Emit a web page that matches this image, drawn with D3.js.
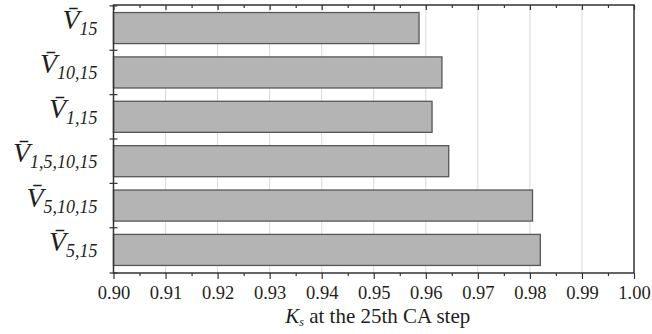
<!DOCTYPE html>
<html>
<head>
<meta charset="utf-8">
<script src="https://cdn.jsdelivr.net/npm/d3@7"></script>
<style>
body { margin: 0; background: #fff; }
text { font-family: "Liberation Serif", "Times New Roman", serif; fill: #1e1e1e; }
</style>
</head>
<body>
<div id="chart"></div>
<script>
// categories top to bottom: [main subscript]
const categories = ["15", "10,15", "1,15", "1,5,10,15", "5,10,15", "5,15"];
const ksValues = [0.9587, 0.9631, 0.9612, 0.9644, 0.9805, 0.9820];
const majorTicks = [0.90, 0.91, 0.92, 0.93, 0.94, 0.95, 0.96, 0.97, 0.98, 0.99, 1.00];
const minorTicks = [0.905, 0.915, 0.925, 0.935, 0.945, 0.955, 0.965, 0.975, 0.985, 0.995];

const W = 652, H = 334;
const margin = { top: 5, right: 18, bottom: 61, left: 113.5 };
const width = W - margin.left - margin.right;
const height = H - margin.top - margin.bottom;

const x = d3.scaleLinear().domain([0.90, 1.00]).range([0, width]);
const y = d3.scaleBand().domain(categories).range([0, height])
  .paddingInner(0.3).paddingOuter(0.17);

const svg = d3.select("#chart").append("svg")
  .attr("width", W).attr("height", H);

const g = svg.append("g")
  .attr("transform", "translate(" + margin.left + "," + margin.top + ")");

// grid lines
g.selectAll(".grid")
  .data(majorTicks.slice(1, -1))
  .enter().append("line")
  .attr("class", "grid")
  .attr("x1", d => x(d)).attr("x2", d => x(d))
  .attr("y1", 0).attr("y2", height)
  .attr("stroke", "#d9d9d9").attr("stroke-width", 1);

// bars
g.selectAll(".bar")
  .data(categories)
  .enter().append("rect")
  .attr("class", "bar")
  .attr("x", x(0.90))
  .attr("y", d => y(d))
  .attr("width", (d, i) => x(ksValues[i]) - x(0.90))
  .attr("height", y.bandwidth())
  .attr("fill", "#b4b4b4")
  .attr("stroke", "#575757")
  .attr("stroke-width", 1.3);

// bottom axis (major + minor)
const bottom = g.append("g")
  .attr("transform", "translate(0," + height + ")")
  .call(d3.axisBottom(x).tickValues(majorTicks).tickSize(6).tickPadding(7)
    .tickFormat(d3.format(".2f")));
g.append("g")
  .attr("transform", "translate(0," + height + ")")
  .call(d3.axisBottom(x).tickValues(minorTicks).tickSize(3).tickFormat(""));

// top axis, ticks pointing inward
g.append("g")
  .call(d3.axisBottom(x).tickValues(majorTicks).tickSize(5).tickFormat(""));
g.append("g")
  .call(d3.axisBottom(x).tickValues(minorTicks).tickSize(3).tickFormat(""));

g.selectAll(".domain").remove();
g.selectAll(".tick line").attr("stroke", "#333").attr("stroke-width", 1.2);
bottom.selectAll(".tick text")
  .style("font-family", "Liberation Serif, serif")
  .style("font-size", "18.5px").attr("fill", "#1e1e1e");

// left ticks at category boundaries
const bounds = d3.range(categories.length + 1)
  .map(i => i === categories.length ? height : y(categories[i]) - y.step() * y.paddingInner() / 2);
g.selectAll(".ytick")
  .data(bounds)
  .enter().append("line")
  .attr("x1", -4).attr("x2", 4)
  .attr("y1", d => d).attr("y2", d => d)
  .attr("stroke", "#333").attr("stroke-width", 1.2);

// frame
g.append("rect")
  .attr("width", width).attr("height", height)
  .attr("fill", "none").attr("stroke", "#333").attr("stroke-width", 1.5);

// category labels: V-bar with subscript
const lab = g.selectAll(".ylabel")
  .data(categories)
  .enter().append("text")
  .attr("class", "ylabel")
  .attr("x", -16)
  .attr("y", d => y(d) + y.bandwidth() / 2 + 1)
  .attr("text-anchor", "end")
  .style("font-style", "italic");
lab.append("tspan")
  .style("font-size", "28px")
  .text("V\u0304");
lab.append("tspan")
  .attr("dy", 6)
  .style("font-size", "18px")
  .text(d => d);

// x title
const title = g.append("text")
  .attr("x", width / 2 + 4)
  .attr("y", height + 50)
  .attr("text-anchor", "middle")
  .style("font-size", "21px");
title.append("tspan").style("font-style", "italic").text("K");
title.append("tspan").attr("dy", 3).style("font-style", "italic").style("font-size", "12px").text("s");
title.append("tspan").attr("dy", -3).text(" at the 25th CA step");
</script>
</body>
</html>
